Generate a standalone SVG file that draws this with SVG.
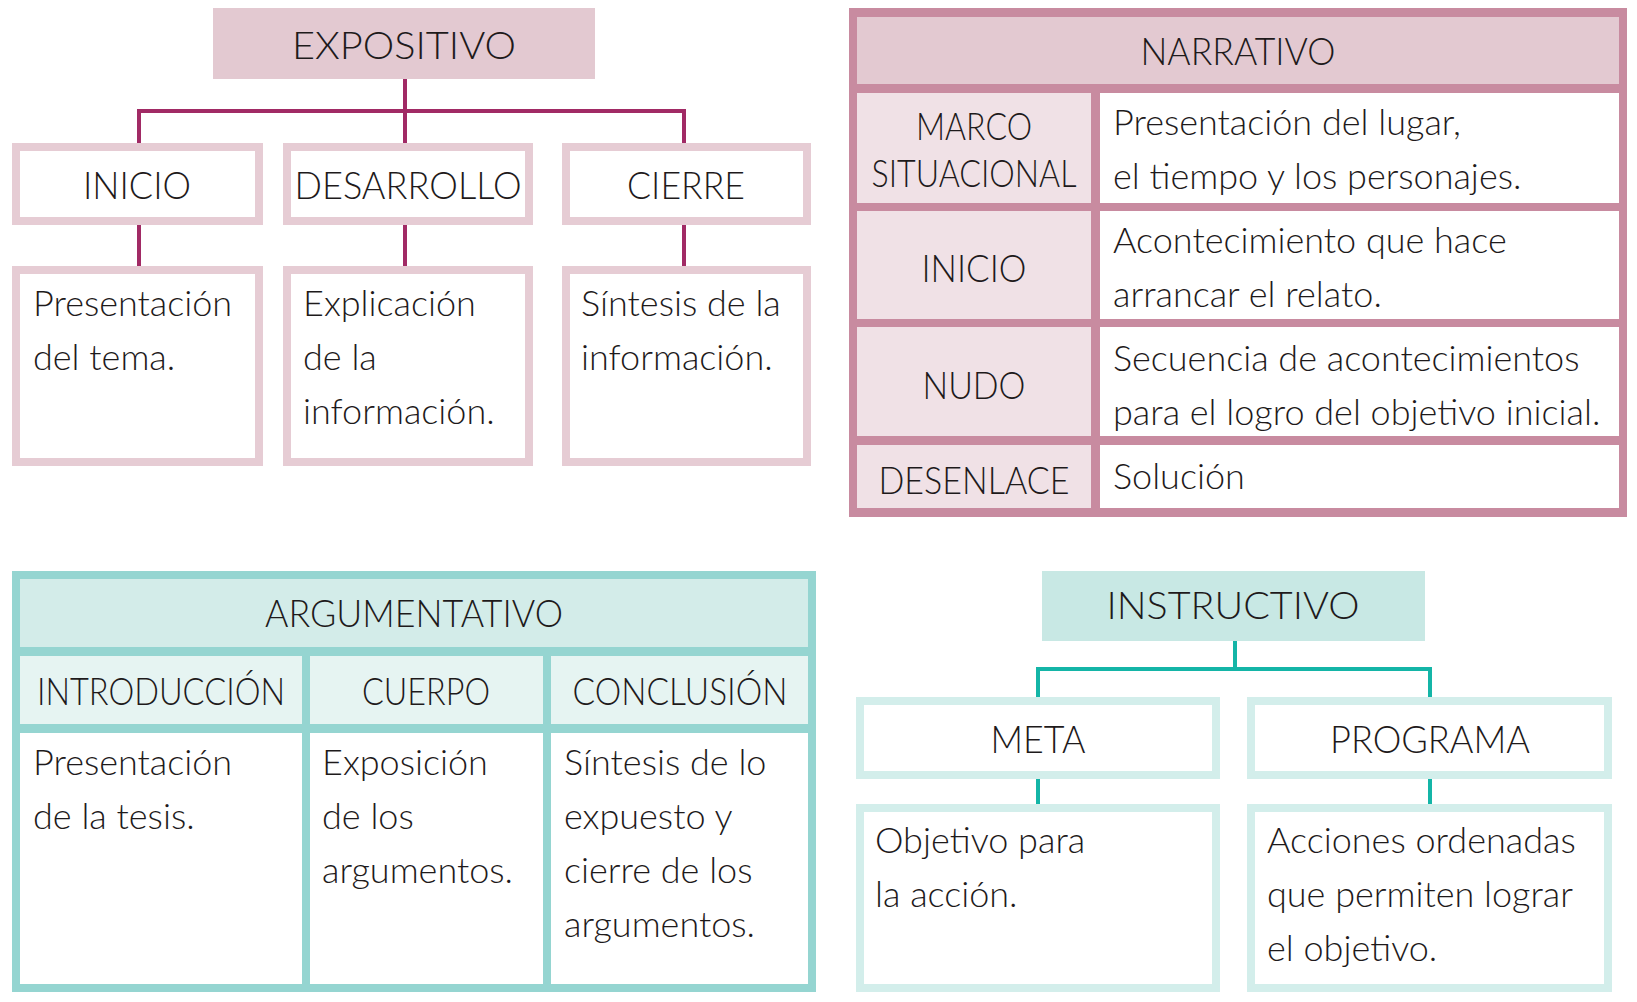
<svg xmlns="http://www.w3.org/2000/svg" width="1637" height="1002" viewBox="0 0 1637 1002">
<style>
text{font-family:Lato,"Open Sans","Liberation Sans",sans-serif;font-weight:300;fill:#1e1a1b}
.h{font-size:38px;text-anchor:middle}
.b{font-size:36px}
.pbox{fill:#fff;stroke:#e6ccd4;stroke-width:8}
.tbox{fill:#fff;stroke:#d3eeeb;stroke-width:8}
.pcon{fill:none;stroke:#a12a65;stroke-width:4}
.tcon{fill:none;stroke:#14b5a7;stroke-width:4}
</style>
<rect width="1637" height="1002" fill="#fff"/>

<g id="connectors">
<path class="pcon" d="M405 79V143M139 143V111H684V143M139 225V266M405 225V266M684 225V266"/>
<path class="tcon" d="M1235 641V669M1038 697V669H1430V697M1038 779V804M1430 779V804"/>
</g>

<g id="expositivo">
<rect x="213" y="8" width="382" height="71" fill="#e3c9d1"/>
<text class="h" x="404" y="59" textLength="224" lengthAdjust="spacingAndGlyphs">EXPOSITIVO</text>
</g>
<g id="exp-inicio">
<rect class="pbox" x="16" y="147" width="243" height="74"/>
<text class="h" x="137" y="199" textLength="108" lengthAdjust="spacingAndGlyphs">INICIO</text>
</g>
<g id="exp-desarrollo">
<rect class="pbox" x="287" y="147" width="242" height="74"/>
<text class="h" x="408" y="199" textLength="227" lengthAdjust="spacingAndGlyphs">DESARROLLO</text>
</g>
<g id="exp-cierre">
<rect class="pbox" x="566" y="147" width="241" height="74"/>
<text class="h" x="686" y="199" textLength="118" lengthAdjust="spacingAndGlyphs">CIERRE</text>
</g>
<g id="exp-inicio-desc">
<rect class="pbox" x="16" y="270" width="243" height="192"/>
<text class="b" x="33" y="316">Presentación</text>
<text class="b" x="33" y="370">del tema.</text>
</g>
<g id="exp-desarrollo-desc">
<rect class="pbox" x="287" y="270" width="242" height="192"/>
<text class="b" x="303" y="316">Explicación</text>
<text class="b" x="303" y="370">de la</text>
<text class="b" x="303" y="424">información.</text>
</g>
<g id="exp-cierre-desc">
<rect class="pbox" x="566" y="270" width="241" height="192"/>
<text class="b" x="581" y="316">Síntesis de la</text>
<text class="b" x="581" y="370">información.</text>
</g>

<g id="narrativo">
<rect x="849" y="8" width="778" height="509" fill="#c88ba0"/>
<rect x="857" y="17" width="762" height="67" fill="#e3c9d1"/>
<text class="h" x="1238" y="65" textLength="195" lengthAdjust="spacingAndGlyphs">NARRATIVO</text>
<g fill="#f0e1e6">
<rect x="857" y="93" width="234" height="110"/>
<rect x="857" y="211" width="234" height="108"/>
<rect x="857" y="327" width="234" height="109"/>
<rect x="857" y="445" width="234" height="63"/>
</g>
<g fill="#fff">
<rect x="1100" y="93" width="519" height="110"/>
<rect x="1100" y="211" width="519" height="108"/>
<rect x="1100" y="327" width="519" height="109"/>
<rect x="1100" y="445" width="519" height="63"/>
</g>
<text class="h" x="974" y="140" textLength="116" lengthAdjust="spacingAndGlyphs">MARCO</text>
<text class="h" x="974" y="187" textLength="205" lengthAdjust="spacingAndGlyphs">SITUACIONAL</text>
<text class="h" x="974" y="282" textLength="105" lengthAdjust="spacingAndGlyphs">INICIO</text>
<text class="h" x="974" y="399" textLength="103" lengthAdjust="spacingAndGlyphs">NUDO</text>
<text class="h" x="974" y="494" textLength="191" lengthAdjust="spacingAndGlyphs">DESENLACE</text>
<text class="b" x="1113" y="135">Presentación del lugar,</text>
<text class="b" x="1113" y="189">el tiempo y los personajes.</text>
<text class="b" x="1113" y="253">Acontecimiento que hace</text>
<text class="b" x="1113" y="307">arrancar el relato.</text>
<text class="b" x="1113" y="371">Secuencia de acontecimientos</text>
<text class="b" x="1113" y="425">para el logro del objetivo inicial.</text>
<text class="b" x="1113" y="489">Solución</text>
</g>

<g id="argumentativo">
<rect x="12" y="571" width="804" height="421" fill="#95d5d1"/>
<rect x="20" y="579" width="788" height="68" fill="#d3ece9"/>
<text class="h" x="414" y="627" textLength="298" lengthAdjust="spacingAndGlyphs">ARGUMENTATIVO</text>
<g fill="#e6f4f2">
<rect x="20" y="656" width="282" height="68"/>
<rect x="310" y="656" width="233" height="68"/>
<rect x="551" y="656" width="257" height="68"/>
</g>
<g fill="#fff">
<rect x="20" y="733" width="282" height="251"/>
<rect x="310" y="733" width="233" height="251"/>
<rect x="551" y="733" width="257" height="251"/>
</g>
<text class="h" x="161" y="705" textLength="248" lengthAdjust="spacingAndGlyphs">INTRODUCCIÓN</text>
<text class="h" x="426" y="705" textLength="128" lengthAdjust="spacingAndGlyphs">CUERPO</text>
<text class="h" x="680" y="705" textLength="215" lengthAdjust="spacingAndGlyphs">CONCLUSIÓN</text>
<text class="b" x="33" y="775">Presentación</text>
<text class="b" x="33" y="829">de la tesis.</text>
<text class="b" x="322" y="775">Exposición</text>
<text class="b" x="322" y="829">de los</text>
<text class="b" x="322" y="883">argumentos.</text>
<text class="b" x="564" y="775">Síntesis de lo</text>
<text class="b" x="564" y="829">expuesto y</text>
<text class="b" x="564" y="883">cierre de los</text>
<text class="b" x="564" y="937">argumentos.</text>
</g>

<g id="instructivo">
<rect x="1042" y="571" width="383" height="70" fill="#c8e8e4"/>
<text class="h" x="1233" y="619" textLength="253" lengthAdjust="spacingAndGlyphs">INSTRUCTIVO</text>
</g>
<g id="ins-meta">
<rect class="tbox" x="860" y="701" width="356" height="74"/>
<text class="h" x="1038" y="753" textLength="95" lengthAdjust="spacingAndGlyphs">META</text>
</g>
<g id="ins-programa">
<rect class="tbox" x="1251" y="701" width="357" height="74"/>
<text class="h" x="1430" y="753" textLength="200" lengthAdjust="spacingAndGlyphs">PROGRAMA</text>
</g>
<g id="ins-meta-desc">
<rect class="tbox" x="860" y="808" width="356" height="180"/>
<text class="b" x="875" y="853">Objetivo para</text>
<text class="b" x="875" y="907">la acción.</text>
</g>
<g id="ins-programa-desc">
<rect class="tbox" x="1251" y="808" width="357" height="180"/>
<text class="b" x="1267" y="853">Acciones ordenadas</text>
<text class="b" x="1267" y="907">que permiten lograr</text>
<text class="b" x="1267" y="961">el objetivo.</text>
</g>
</svg>
